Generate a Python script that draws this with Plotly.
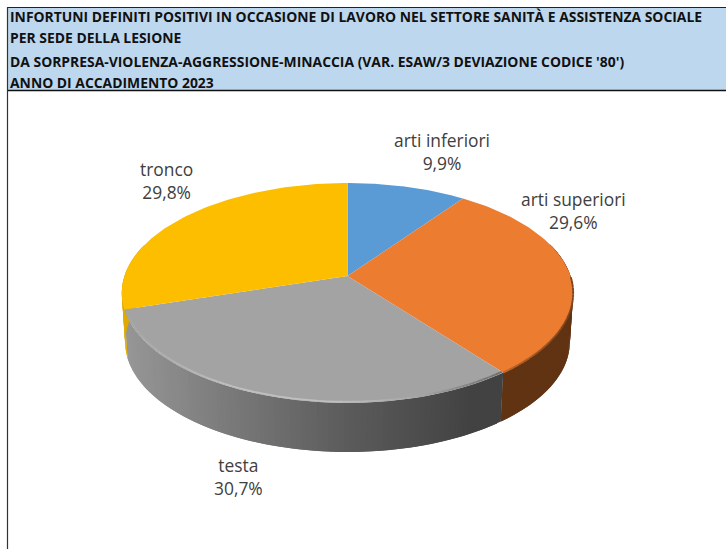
import math
import plotly.graph_objects as go

# ---- data ----
categories = ["arti inferiori", "arti superiori", "testa", "tronco"]
values = [9.9, 29.6, 30.7, 29.8]
title_lines = [
    "INFORTUNI DEFINITI POSITIVI IN OCCASIONE DI LAVORO NEL SETTORE SANITÀ E ASSISTENZA SOCIALE",
    "PER SEDE DELLA LESIONE",
    "DA SORPRESA-VIOLENZA-AGGRESSIONE-MINACCIA (VAR. ESAW/3 DEVIAZIONE CODICE '80')",
    "ANNO DI ACCADIMENTO 2023",
]

# ---- style / layout ----
W, H = 726, 549
top_colors = ["#5B9BD5", "#EB7C30", "#A3A3A3", "#FDBE00"]
label_pos = {"arti inferiori": (442, 151), "arti superiori": (573, 210), "testa": (238, 476), "tronco": (166, 180)}
title_y = [16.5, 37.5, 61, 82]
TEXT = "#404040"

# perspective projection of the pie disc
CX, R, C, A, B = 347.5, 223.0, 0.1545, -64.7, 276.0
DEPTH, BOTTOM_SCALE = 49.0, 0.985


def top(theta, r=1.0):
    u, v = r * math.sin(theta), r * math.cos(theta)
    d = 1 + C * v
    return CX + R * u / d, (A * v + B) / d


def bottom(theta):
    x, y = top(theta)
    return CX + (x - CX) * BOTTOM_SCALE, y + DEPTH


def mix(stops, x):
    if x <= stops[0][0]:
        return stops[0][1]
    for (x0, c0), (x1, c1) in zip(stops, stops[1:]):
        if x <= x1:
            t = (x - x0) / (x1 - x0)
            return tuple(round(a + (b - a) * t) for a, b in zip(c0, c1))
    return stops[-1][1]


side_stops = {
    "arti inferiori": [(0, (60, 100, 140))],
    "arti superiori": [(0, (96, 51, 19))],
    "testa": [(127, (150, 150, 150)), (220, (124, 124, 124)), (340, (93, 93, 93)), (470, (66, 66, 66))],
    "tronco": [(0, (224, 170, 0))],
}
rim_stops = {
    "arti superiori": [(500, (200, 105, 42)), (570, (125, 68, 30))],
    "testa": [(127, (165, 165, 165)), (230, (192, 192, 192)), (340, (192, 192, 192)), (420, (165, 165, 165)), (500, (110, 110, 110))],
}
rim_radius = {"arti superiori": 1.0, "testa": 0.992}

# slice angles from the values, clockwise from the top
total = sum(values)
edges = [0.0]
for val in values:
    edges.append(edges[-1] + val / total * 2 * math.pi)

fig = go.Figure()


def poly(xs, ys, color, name=None, width=0.0):
    fig.add_trace(go.Scatter(x=xs, y=ys, mode="lines", fill="toself", fillcolor=color,
                             line=dict(color=color, width=width), hoverinfo="skip", name=name, showlegend=False))


# side wall: overlapping strips give a smooth shade
for i, cat in enumerate(categories):
    n = max(6, int(values[i] * 3))
    for k in range(n):
        t0 = edges[i] + (edges[i + 1] - edges[i]) * k / n
        t1 = edges[i] + (edges[i + 1] - edges[i]) * min(k + 2, n) / n
        if math.cos((t0 + t1) / 2) > 0.3:
            continue
        p = [top(t0), top(t1), bottom(t1), bottom(t0), top(t0)]
        xm = (p[0][0] + top(edges[i] + (edges[i + 1] - edges[i]) * (k + 1) / n)[0]) / 2
        c = mix(side_stops[cat], xm)
        poly([q[0] for q in p], [q[1] for q in p], "rgb(%d,%d,%d)" % c)

# top faces
for i, cat in enumerate(categories):
    n = 80
    pts = [top(edges[i] + (edges[i + 1] - edges[i]) * k / n) for k in range(n + 1)]
    apex = top(0, 0)
    xs = [apex[0]] + [q[0] for q in pts] + [apex[0]]
    ys = [apex[1]] + [q[1] for q in pts] + [apex[1]]
    poly(xs, ys, top_colors[i], name=cat)

# rim bevel
for i, cat in enumerate(categories):
    if cat not in rim_stops:
        continue
    n = 60
    for k in range(n):
        t0 = edges[i] + (edges[i + 1] - edges[i]) * k / n
        t1 = edges[i] + (edges[i + 1] - edges[i]) * (k + 1) / n
        if math.cos((t0 + t1) / 2) > 0.0:
            continue
        a, b = top(t0, rim_radius[cat]), top(t1, rim_radius[cat])
        c = mix(rim_stops[cat], (a[0] + b[0]) / 2)
        fig.add_trace(go.Scatter(x=[a[0], b[0]], y=[a[1], b[1]], mode="lines", hoverinfo="skip", showlegend=False,
                                 line=dict(color="rgb(%d,%d,%d)" % c, width=1.8)))

# data labels
annotations = []
for cat, val in zip(categories, values):
    x, y = label_pos[cat]
    annotations.append(dict(x=x, y=y, xref="x", yref="y", showarrow=False, xanchor="center", yanchor="middle",
                            align="center", text=cat + "<br>" + f"{val:.1f}".replace(".", ",") + "%",
                            font=dict(family="Open Sans", size=17.4, color=TEXT)))
for line, y in zip(title_lines, title_y):
    annotations.append(dict(x=8, y=y, xref="x", yref="y", showarrow=False, xanchor="left", yanchor="middle",
                            text="<b>" + line + "</b>", font=dict(family="Open Sans", size=13.9, color="#111111")))

shapes = [
    dict(type="rect", x0=8, x1=W, y0=8, y1=90, fillcolor="#BDD7EE", line_width=0, layer="below"),
    dict(type="line", x0=7, x1=W, y0=7.5, y1=7.5, line=dict(color="#222222", width=1.2)),
    dict(type="line", x0=7, x1=W, y0=90.5, y1=90.5, line=dict(color="#111111", width=1.4)),
    dict(type="line", x0=7.5, x1=7.5, y0=7, y1=H, line=dict(color="#333333", width=1.2)),
]

fig.update_layout(
    width=W, height=H, margin=dict(l=0, r=0, t=0, b=0), paper_bgcolor="white", plot_bgcolor="white",
    xaxis=dict(range=[0, W], visible=False, fixedrange=True),
    yaxis=dict(range=[H, 0], visible=False, fixedrange=True),
    showlegend=False, shapes=shapes, annotations=annotations,
)
fig.write_html("out.html", config={"displayModeBar": False},
               post_script="document.body.style.margin='0';document.body.style.overflow='hidden';")
